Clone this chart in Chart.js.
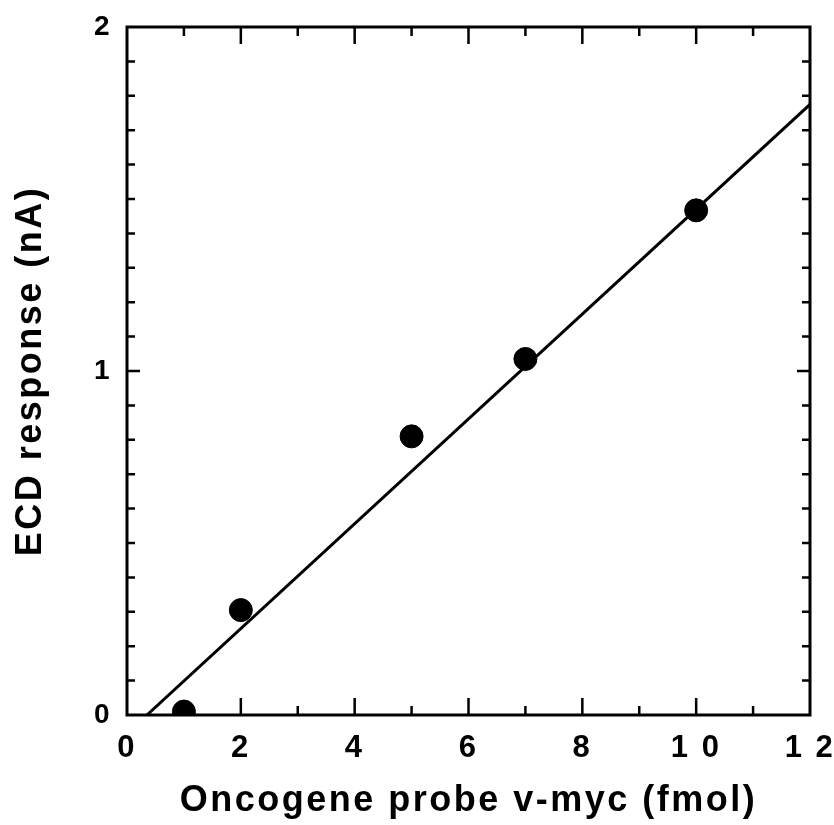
<!DOCTYPE html>
<html>
<head>
    <meta charset='utf-8'>
    <title>ECD response vs v-myc</title>
    <script src="https://cdn.jsdelivr.net/npm/chart.js@4.4.0/dist/chart.umd.min.js"></script>
    <style>
        html, body { margin: 0; padding: 0; background: #fff; }
        #wrap { width: 834px; height: 825px; }
    </style>
</head>
<body>
<div id="wrap"><canvas id="ecdChart"></canvas></div>
<script>
// measured points
const probeFmol = [1, 2, 5, 7, 10];
const ecdNa = [0.01, 0.305, 0.81, 1.035, 1.467];

// fitted line at its two ends
const fitX = [0.35, 12];
const fitY = [0, 1.775];

const xRange = [0, 12];
const yRange = [0, 2];

const FONT = "'Liberation Sans', Arial, sans-serif";

const pts = probeFmol.map((x, i) => ({x: x, y: ecdNa[i]}));
const fitPts = fitX.map((x, i) => ({x: x, y: fitY[i]}));

// the old typeset look: a bit of letter spacing on all text
const spacing = {
    id: 'spacing',
    beforeDraw(chart) { chart.ctx.letterSpacing = '2.5px'; },
    afterDraw(chart) { chart.ctx.letterSpacing = '0px'; }
};

// inward ticks on all four sides + closed frame
const frameTicks = {
    id: 'frameTicks',
    afterDraw(chart) {
        const ctx = chart.ctx;
        const a = chart.chartArea;
        const xs = chart.scales.x, ys = chart.scales.y;
        ctx.save();
        ctx.strokeStyle = '#000';
        ctx.lineCap = 'butt';
        ctx.lineWidth = 2.5;
        xs.ticks.forEach(t => {
            const px = xs.getPixelForValue(t.value);
            if (t.value <= xRange[0] || t.value >= xRange[1]) return;
            const len = t.value % 2 === 0 ? 17 : 9;
            ctx.beginPath();
            ctx.moveTo(px, a.bottom); ctx.lineTo(px, a.bottom - len);
            ctx.moveTo(px, a.top); ctx.lineTo(px, a.top + len);
            ctx.stroke();
        });
        ys.ticks.forEach(t => {
            const py = ys.getPixelForValue(t.value);
            if (t.value <= yRange[0] + 1e-6 || t.value >= yRange[1] - 1e-6) return;
            const major = Math.abs(t.value - Math.round(t.value)) < 1e-6;
            const len = major ? 13 : 8;
            ctx.beginPath();
            ctx.moveTo(a.left, py); ctx.lineTo(a.left + len, py);
            ctx.moveTo(a.right, py); ctx.lineTo(a.right - len, py);
            ctx.stroke();
        });
        ctx.lineWidth = 3;
        ctx.strokeRect(a.left, a.top, a.right - a.left, a.bottom - a.top);
        ctx.restore();
    }
};

new Chart(document.getElementById('ecdChart'), {
    type: 'scatter',
    data: {
        datasets: [{
            label: 'fit',
            data: fitPts,
            showLine: true,
            borderColor: '#000',
            borderWidth: 3,
            pointRadius: 0,
            order: 2
        }, {
            label: 'ECD',
            data: pts,
            backgroundColor: '#000',
            borderColor: '#000',
            pointRadius: 11.5,
            order: 1
        }]
    },
    plugins: [spacing, frameTicks],
    options: {
        responsive: true,
        maintainAspectRatio: false,
        animation: false,
        layout: { padding: { top: 27, right: 24, left: 8, bottom: 2 } },
        plugins: { legend: { display: false }, tooltip: { enabled: false } },
        scales: {
            x: {
                type: 'linear',
                min: xRange[0], max: xRange[1],
                afterFit: s => { s.height = 108; s.paddingLeft = 0; s.paddingRight = 0; },
                border: { display: false },
                grid: { drawOnChartArea: false, drawTicks: false },
                ticks: {
                    stepSize: 1,
                    autoSkip: false,
                    maxRotation: 0,
                    padding: 15,
                    color: '#000',
                    font: { family: FONT, size: 31, weight: 'bold' },
                    callback: v => v % 2 === 0 ? String(v).split('').join(' ') : ''
                },
                title: {
                    display: true,
                    text: 'Oncogene probe v-myc (fmol)',
                    color: '#000',
                    padding: { top: 0, bottom: 0 },
                    font: { family: FONT, size: 36, weight: 'bold' }
                }
            },
            y: {
                type: 'linear',
                min: yRange[0], max: yRange[1],
                afterFit: s => { s.width = 119; s.paddingTop = 0; s.paddingBottom = 0; },
                border: { display: false },
                grid: { drawOnChartArea: false, drawTicks: false },
                ticks: {
                    stepSize: 0.1,
                    autoSkip: false,
                    padding: 15,
                    color: '#000',
                    font: { family: FONT, size: 28, weight: 'bold' },
                    callback: v => Math.abs(v - Math.round(v)) < 1e-6 ? String(Math.round(v)) : ''
                },
                title: {
                    display: true,
                    text: 'ECD response (nA)',
                    color: '#000',
                    padding: { top: 1, bottom: 0 },
                    font: { family: FONT, size: 36, weight: 'bold' }
                }
            }
        }
    }
});
</script>
</body>
</html>
